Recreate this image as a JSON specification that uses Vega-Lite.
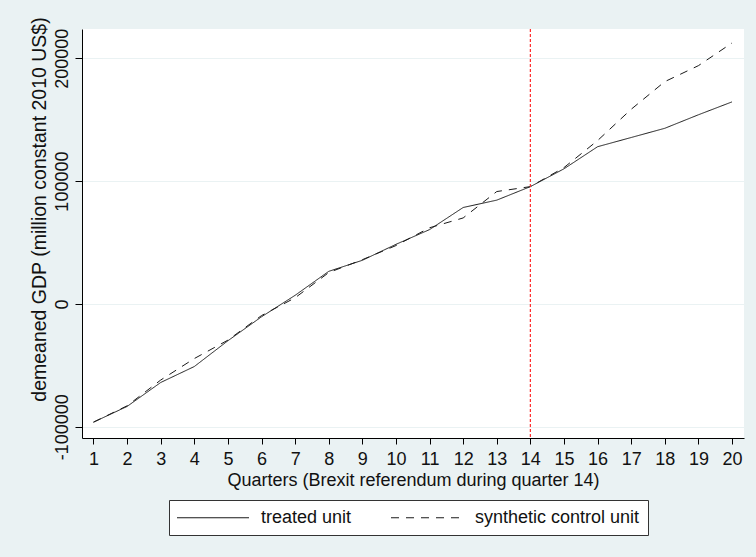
{
  "$schema": "https://vega.github.io/schema/vega-lite/v6.json",
  "autosize": "none",
  "width": 662,
  "height": 409,
  "padding": {"left": 82, "top": 29, "right": 12, "bottom": 119},
  "background": "#eaf2f3",
  "config": {
    "font": "Liberation Sans",
    "view": {"fill": "white", "stroke": null}
  },
  "datasets": {
    "gdp": [
      {"q": 1, "series": "treated unit", "gdp": -96300},
      {"q": 2, "series": "treated unit", "gdp": -83500},
      {"q": 3, "series": "treated unit", "gdp": -64000},
      {"q": 4, "series": "treated unit", "gdp": -51000},
      {"q": 5, "series": "treated unit", "gdp": -30000},
      {"q": 6, "series": "treated unit", "gdp": -10500},
      {"q": 7, "series": "treated unit", "gdp": 7000},
      {"q": 8, "series": "treated unit", "gdp": 26500},
      {"q": 9, "series": "treated unit", "gdp": 35500},
      {"q": 10, "series": "treated unit", "gdp": 48500},
      {"q": 11, "series": "treated unit", "gdp": 60500},
      {"q": 12, "series": "treated unit", "gdp": 78500},
      {"q": 13, "series": "treated unit", "gdp": 84500},
      {"q": 14, "series": "treated unit", "gdp": 95500},
      {"q": 15, "series": "treated unit", "gdp": 110000},
      {"q": 16, "series": "treated unit", "gdp": 128000},
      {"q": 17, "series": "treated unit", "gdp": 135500},
      {"q": 18, "series": "treated unit", "gdp": 143000},
      {"q": 19, "series": "treated unit", "gdp": 154000},
      {"q": 20, "series": "treated unit", "gdp": 164500},
      {"q": 1, "series": "synthetic control unit", "gdp": -96300},
      {"q": 2, "series": "synthetic control unit", "gdp": -83000},
      {"q": 3, "series": "synthetic control unit", "gdp": -62000},
      {"q": 4, "series": "synthetic control unit", "gdp": -44500},
      {"q": 5, "series": "synthetic control unit", "gdp": -29500},
      {"q": 6, "series": "synthetic control unit", "gdp": -9500},
      {"q": 7, "series": "synthetic control unit", "gdp": 5000},
      {"q": 8, "series": "synthetic control unit", "gdp": 25500},
      {"q": 9, "series": "synthetic control unit", "gdp": 36000},
      {"q": 10, "series": "synthetic control unit", "gdp": 47500},
      {"q": 11, "series": "synthetic control unit", "gdp": 62000},
      {"q": 12, "series": "synthetic control unit", "gdp": 70000},
      {"q": 13, "series": "synthetic control unit", "gdp": 91500},
      {"q": 14, "series": "synthetic control unit", "gdp": 95500},
      {"q": 15, "series": "synthetic control unit", "gdp": 111000},
      {"q": 16, "series": "synthetic control unit", "gdp": 133000},
      {"q": 17, "series": "synthetic control unit", "gdp": 158500},
      {"q": 18, "series": "synthetic control unit", "gdp": 181000},
      {"q": 19, "series": "synthetic control unit", "gdp": 194000},
      {"q": 20, "series": "synthetic control unit", "gdp": 212500}
    ],
    "event": [{"q": 14}]
  },
  "layer": [
    {
      "data": {"name": "gdp"},
      "mark": {"type": "line", "color": "#1a1a1a", "strokeWidth": 1},
      "encoding": {
        "x": {
          "field": "q",
          "type": "quantitative",
          "scale": {"domain": [0.658, 20.357], "nice": false, "zero": false},
          "axis": {
            "title": "Quarters (Brexit referendum during quarter 14)",
            "values": [1,2,3,4,5,6,7,8,9,10,11,12,13,14,15,16,17,18,19,20],
            "tickCount": 40,
            "grid": false,
            "labelOverlap": false,
            "domainColor": "#000000",
            "tickColor": "#000000",
            "tickSize": 6,
            "labelPadding": 6,
            "labelFontSize": 18,
            "labelColor": "#111111",
            "labelExpr": "'' + datum.value",
            "titleFontSize": 18,
            "titleFontWeight": "normal",
            "titleColor": "#111111",
            "titleBaseline": "top",
            "titleY": 33
          }
        },
        "y": {
          "field": "gdp",
          "type": "quantitative",
          "scale": {"domain": [-109200, 223860], "nice": false, "zero": false},
          "axis": {
            "title": "demeaned GDP (million constant 2010 US$)",
            "values": [-100000, 0, 100000, 200000],
            "tickCount": 10,
            "grid": true,
            "gridColor": "#eaf2f3",
            "gridWidth": 1,
            "labelOverlap": false,
            "domainColor": "#000000",
            "tickColor": "#000000",
            "tickSize": 7,
            "labelPadding": 8,
            "labelAngle": -90,
            "labelAlign": "center",
            "labelBaseline": "alphabetic",
            "labelFontSize": 18,
            "labelColor": "#111111",
            "labelExpr": "'' + datum.value",
            "titleFontSize": 19.5,
            "titleFontWeight": "normal",
            "titleColor": "#111111",
            "titleAngle": -90,
            "titleAlign": "center",
            "titleBaseline": "alphabetic",
            "titleX": -37,
            "titleY": 180
          }
        },
        "strokeDash": {
          "field": "series",
          "type": "nominal",
          "scale": {"domain": ["treated unit", "synthetic control unit"], "range": [[1, 0], [8, 7]]},
          "legend": {
            "title": null,
            "orient": "none",
            "legendX": 87,
            "legendY": 471,
            "direction": "horizontal",
            "columns": 2,
            "padding": 8,
            "fillColor": "white",
            "strokeColor": "#333333",
            "labelFontSize": 18,
            "labelColor": "#111111",
            "labelBaseline": "middle",
            "labelLimit": 400,
            "labelOffset": 38.5,
            "columnPadding": 37,
            "symbolType": "M-4,0H4",
            "symbolSize": 324,
            "symbolOffset": 26.5,
            "symbolStrokeWidth": 1,
            "symbolStrokeColor": "#1a1a1a"
          }
        }
      }
    },
    {
      "data": {"name": "event"},
      "mark": {"type": "rule", "color": "#ff2a2a", "strokeWidth": 1.2, "strokeDash": [3, 2]},
      "encoding": {
        "x": {"field": "q", "type": "quantitative"}
      }
    }
  ]
}
